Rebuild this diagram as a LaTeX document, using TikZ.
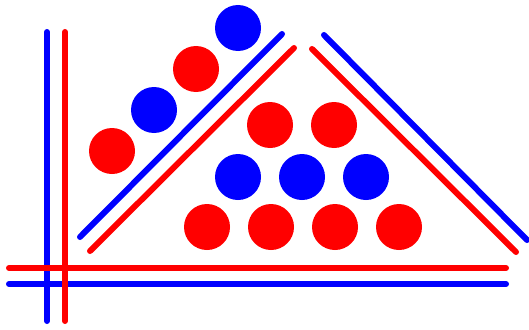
\documentclass[tikz,border=0pt]{standalone}
\usepackage{xcolor}
\definecolor{ballRed}{HTML}{FF0000}
\definecolor{ballBlue}{HTML}{0000FF}
\usepackage{tikz}
\usetikzlibrary{positioning}
\tikzset{
    % Base style for all balls
    ball base/.style={
        circle,
        minimum size=46pt,
        inner sep=0pt,
        draw=none,
    },
    red ball/.style={ball base, fill=ballRed},
    blue ball/.style={ball base, fill=ballBlue},
    % Straight bars with round ends
    bar/.style={
        line width=6pt,
        line cap=round,
    },
    red bar/.style={bar, draw=ballRed},
    blue bar/.style={bar, draw=ballBlue},
}

\begin{document}
\begin{tikzpicture}[x=1pt, y=-1pt]
    \useasboundingbox (0,0) rectangle (529,329);

    % balls along the left slope
    \node (slope1) [red ball] at (112,151) {};
    \node (slope2) [blue ball] at (154,110) {};
    \node (slope3) [red ball] at (196,69) {};
    \node (slope4) [blue ball] at (238,28) {};

    % balls inside the triangle
    \foreach \i in {0,1}
        \node (top\i) [red ball] at (270+64*\i,125) {};
    \foreach \i in {0,1,2}
        \node (mid\i) [blue ball] at (238+64*\i,177) {};
    \foreach \i in {0,1,2,3}
        \node (low\i) [red ball] at (207+64*\i,227) {};

    % blue bars
    \draw [blue bar] (47,32) -- (47,321);
    \draw [blue bar] (9,284) -- (506,284);
    \draw [blue bar] (80,237) -- (282,34);
    \draw [blue bar] (324,35) -- (527,240);

    % red bars
    \draw [red bar] (65,32) -- (65,321);
    \draw [red bar] (9,268) -- (506,268);
    \draw [red bar] (90,251) -- (294,48);
    \draw [red bar] (312,49) -- (516,252);
\end{tikzpicture}
\end{document}
